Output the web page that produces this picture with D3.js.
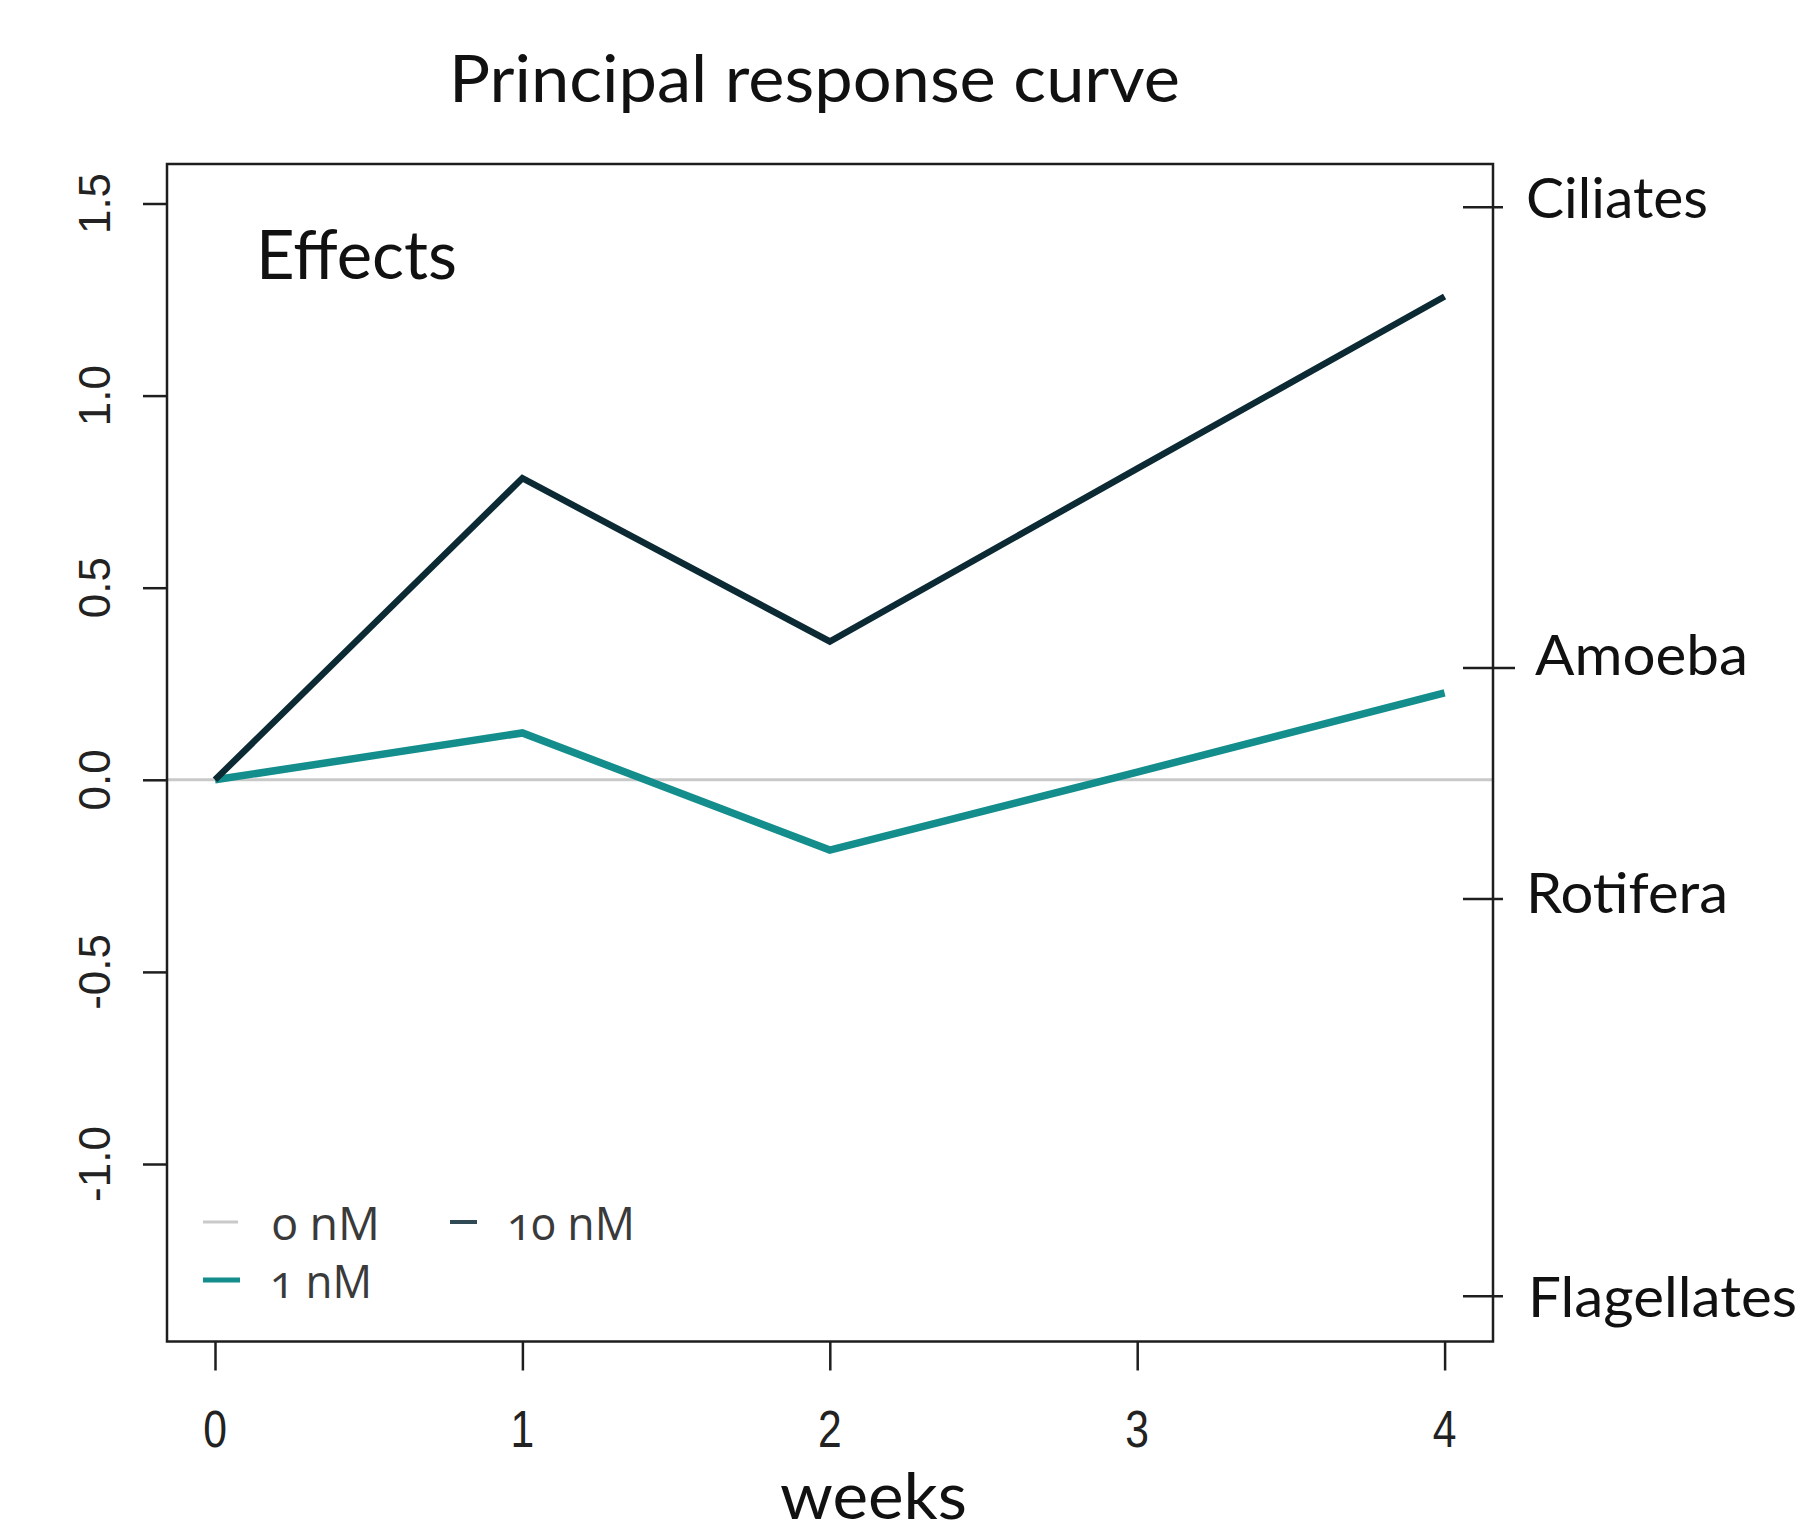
<!DOCTYPE html>
<html>
<head>
<meta charset="utf-8">
<script src="https://cdn.jsdelivr.net/npm/d3@7"></script>
<style>
  html, body { margin: 0; padding: 0; background: #fff; }
  svg { display: block; }
</style>
</head>
<body>
<script>
// ---- data ----
const weeks = [0, 1, 2, 3, 4];
const seriesNames = ["0 nM", "1 nM", "10 nM"];
const control0nM = [0, 0, 0, 0, 0];
const treat1nM = [0, 0.122, -0.183, 0.02, 0.226];
const treat10nM = [0, 0.785, 0.36, 0.81, 1.258];
const yTicks = [-1.0, -0.5, 0.0, 0.5, 1.0, 1.5];
const xTicks = [0, 1, 2, 3, 4];
const speciesNames = ["Ciliates", "Amoeba", "Rotifera", "Flagellates"];
const speciesScores = [1.49, 0.291, -0.31, -1.344];

// ---- layout ----
const W = 1810, H = 1532;
const box = { left: 167, right: 1493, top: 164, bottom: 1341.5 };
const colors = { c0: "#c9c9c9", c1: "#138e8c", c10: "#0c2a33" };
const speciesLabelDx = [33, 42, 33, 35];
const speciesLabelDy = [10.5, 7, 14, 21];
const speciesLabelLen = [182, 213, 202, 269];
const speciesTickRight = [1503, 1515, 1503, 1503];

const svg = d3.select("body").append("svg").attr("width", W).attr("height", H);

const x = d3.scaleLinear().domain([0, 4]).range([215, 1444.6]);
const y = d3.scaleLinear().domain([-1, 1.5]).range([1164, 203.5]);

// zero reference line (0 nM) across plot region
const xExt = [x.invert(box.left), x.invert(box.right)];
svg.append("line")
  .attr("x1", x(xExt[0])).attr("x2", x(xExt[1]))
  .attr("y1", y(control0nM[0])).attr("y2", y(control0nM[0]))
  .attr("stroke", colors.c0).attr("stroke-width", 3);

const line = d3.line().x((d, i) => x(weeks[i])).y(d => y(d));

svg.append("path").datum(treat1nM).attr("d", line)
  .attr("fill", "none").attr("stroke", colors.c1).attr("stroke-width", 7.5)
  .attr("stroke-linejoin", "miter");
svg.append("path").datum(treat10nM).attr("d", line)
  .attr("fill", "none").attr("stroke", colors.c10).attr("stroke-width", 6.5)
  .attr("stroke-linejoin", "miter");

// box
svg.append("rect")
  .attr("x", box.left).attr("y", box.top)
  .attr("width", box.right - box.left).attr("height", box.bottom - box.top)
  .attr("fill", "none").attr("stroke", "#1e1e1e").attr("stroke-width", 2.5);

// left axis
const yAxis = d3.axisLeft(y).tickValues(yTicks).tickSize(24).tickFormat("");
const gy = svg.append("g").attr("transform", `translate(${box.left},0)`).call(yAxis);
gy.select(".domain").remove();
gy.selectAll(".tick line").attr("stroke", "#1e1e1e").attr("stroke-width", 2.5);
svg.append("g").selectAll("text").data(yTicks).join("text")
  .attr("transform", d => `translate(110,${y(d)}) rotate(-90)`)
  .attr("text-anchor", "middle")
  .attr("font-family", "Liberation Sans, Arial, sans-serif")
  .attr("font-size", 44)
  .attr("fill", "#222")
  .text(d => d.toFixed(1));

// bottom axis
const xAxis = d3.axisBottom(x).tickValues(xTicks).tickSize(29).tickFormat("");
const gx = svg.append("g").attr("transform", `translate(0,${box.bottom})`).call(xAxis);
gx.select(".domain").remove();
gx.selectAll(".tick line").attr("stroke", "#1e1e1e").attr("stroke-width", 2.5);
svg.append("g").selectAll("text").data(xTicks).join("text")
  .attr("transform", d => `translate(${x(d)},1447) scale(0.82,1)`)
  .attr("text-anchor", "middle")
  .attr("font-family", "Liberation Sans, Arial, sans-serif")
  .attr("font-size", 52)
  .attr("fill", "#222")
  .text(d => d);

// right species axis
const gs = svg.append("g");
speciesNames.forEach((name, i) => {
  const yy = y(speciesScores[i]);
  gs.append("line").attr("x1", 1463).attr("x2", speciesTickRight[i])
    .attr("y1", yy).attr("y2", yy)
    .attr("stroke", "#1e1e1e").attr("stroke-width", 2.5);
  gs.append("text")
    .attr("x", box.right + speciesLabelDx[i]).attr("y", yy + speciesLabelDy[i])
    .attr("font-family", "Lato, 'Open Sans', sans-serif")
    .attr("font-size", 57)
    .attr("fill", "#111")
    .attr("textLength", speciesLabelLen[i])
    .attr("lengthAdjust", "spacingAndGlyphs")
    .text(name);
});

// title
svg.append("text")
  .attr("x", 449).attr("y", 101.5)
  .attr("font-family", "Lato, 'Open Sans', sans-serif")
  .attr("font-size", 65).attr("fill", "#111")
  .attr("textLength", 731).attr("lengthAdjust", "spacingAndGlyphs")
  .text("Principal response curve");

// Effects
svg.append("text")
  .attr("x", 256).attr("y", 279)
  .attr("font-family", "Lato, 'Open Sans', sans-serif")
  .attr("font-size", 67).attr("fill", "#111")
  .attr("textLength", 201).attr("lengthAdjust", "spacingAndGlyphs")
  .text("Effects");

// x axis title
svg.append("text")
  .attr("x", 780).attr("y", 1519)
  .attr("font-family", "Lato, 'Open Sans', sans-serif")
  .attr("font-size", 64).attr("fill", "#111")
  .attr("textLength", 187).attr("lengthAdjust", "spacingAndGlyphs")
  .text("weeks");

// legend
const legend = [
  { name: seriesNames[0], color: colors.c0, x1: 203, x2: 238, y: 1222, tx: 272, ty: 1240, len: 108, w: 3 },
  { name: seriesNames[2], color: "#2f4a55", x1: 450, x2: 477, y: 1222, tx: 507, ty: 1240, len: 128, w: 4 },
  { name: seriesNames[1], color: colors.c1, x1: 203, x2: 240, y: 1280, tx: 270, ty: 1298, len: 102, w: 5 }
];
const gl = svg.append("g");
legend.forEach(d => {
  gl.append("line").attr("x1", d.x1).attr("x2", d.x2).attr("y1", d.y).attr("y2", d.y)
    .attr("stroke", d.color).attr("stroke-width", d.w);
  gl.append("text").attr("x", d.tx).attr("y", d.ty)
    .attr("font-family", "'Open Sans', Lato, sans-serif")
    .attr("font-size", 46).attr("fill", "#3a3a3a")
    .style("font-variant-numeric", "oldstyle-nums")
    .attr("textLength", d.len).attr("lengthAdjust", "spacingAndGlyphs")
    .text(d.name);
});
</script>
</body>
</html>
